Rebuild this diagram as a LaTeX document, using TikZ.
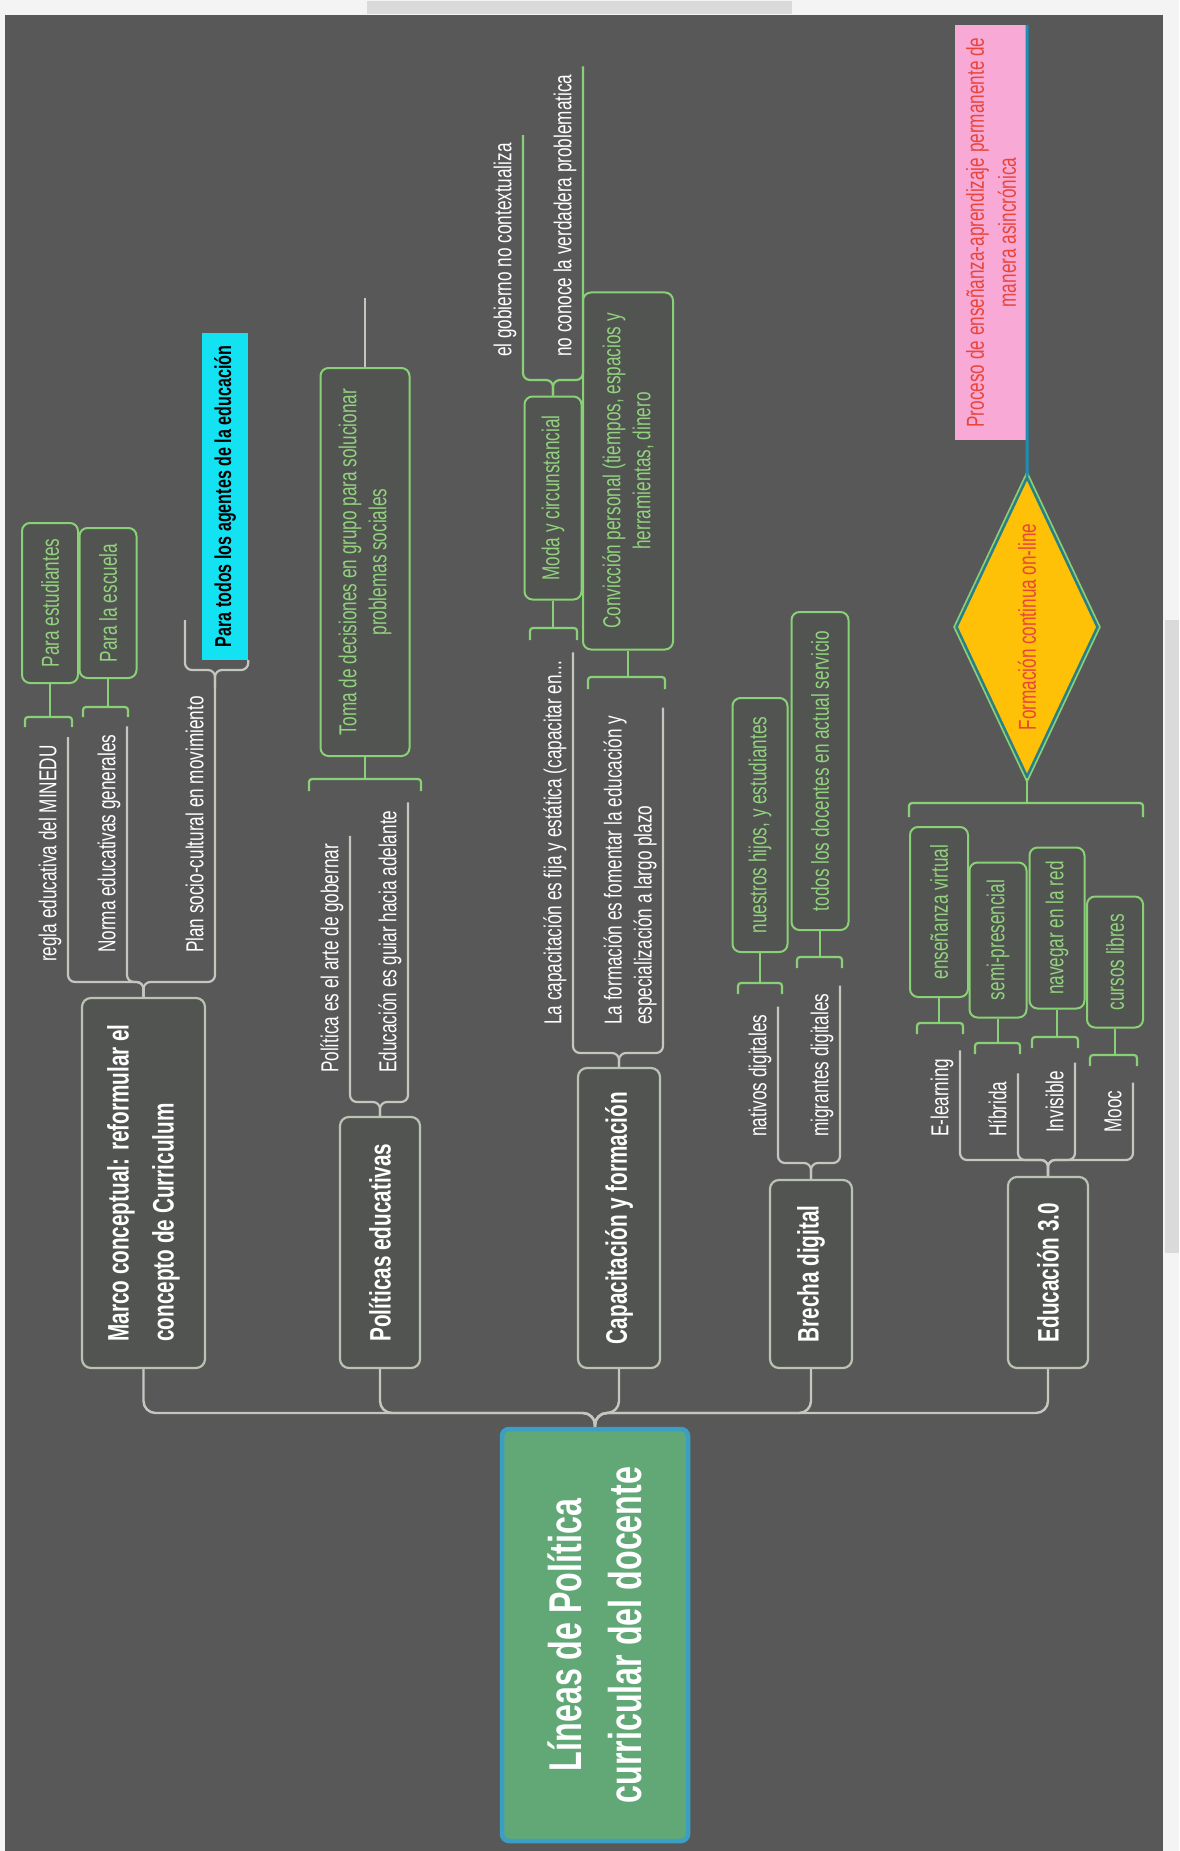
\documentclass[tikz,border=0pt]{standalone}
\usepackage{fontspec}
\setmainfont{Liberation Sans}[FakeStretch=0.7]
\usetikzlibrary{shapes.geometric}
\definecolor{bgdark}{HTML}{585858}
\definecolor{chrome}{HTML}{F4F4F4}
\definecolor{thumb}{HTML}{DADADA}
\definecolor{boxline}{HTML}{BAC3B3}
\definecolor{boxfill}{HTML}{515450}
\definecolor{twiggray}{HTML}{C3C7BF}
\definecolor{leafgreen}{HTML}{8AD076}
\definecolor{leaftext}{HTML}{93D27F}
\definecolor{rootgreen}{HTML}{62A877}
\definecolor{rootblue}{HTML}{3A9EC5}
\definecolor{agentcyan}{HTML}{12E2F2}
\definecolor{notepink}{HTML}{F8A9D6}
\definecolor{notered}{HTML}{E8463A}
\definecolor{diamondfill}{HTML}{FFC107}
\definecolor{diamondline}{HTML}{2A7F86}
\definecolor{tealline}{HTML}{1B8FB5}

\begin{document}
\begin{tikzpicture}[x=1pt,y=-1pt]
  \tikzstyle{rootbox}=[rotate=90, fill=rootgreen, draw=rootblue, line width=4.5pt, rounded corners=7pt, text=white, font=\fontsize{46}{60}\selectfont\bfseries, align=center, minimum width=412pt, minimum height=186pt]
  \tikzstyle{mainbox}=[rotate=90, fill=boxfill, draw=boxline, line width=2.2pt, rounded corners=9pt, text=white, font=\fontsize{29.6}{45}\selectfont\bfseries, align=left, inner sep=0pt]
  \tikzstyle{subtopic}=[rotate=90, anchor=south west, text=white, font=\fontsize{24.5}{30}\selectfont, align=left, inner xsep=8pt, inner ysep=6pt, text height=18pt, text depth=5.5pt]
  \tikzstyle{leaf}=[rotate=90, fill=boxfill, draw=leafgreen, line width=2pt, rounded corners=8pt, text=leaftext, font=\fontsize{24.5}{30}\selectfont, align=center, inner sep=0pt]
  \tikzstyle{trunk}=[draw=twiggray, line width=2.4pt, rounded corners=12pt]
  \tikzstyle{twig}=[draw=twiggray, line width=2.2pt, rounded corners=7pt]
  \tikzstyle{sprig}=[draw=leafgreen, line width=2.2pt, rounded corners=7pt]
  \tikzstyle{brace}=[draw=leafgreen, line width=2.2pt, rounded corners=3pt]

  \useasboundingbox (0,0) rectangle (1179,1851);
  \fill[chrome] (0,0) rectangle (1179,1851);
  \fill[thumb] (367,1) rectangle (792,14);
  \fill[thumb] (1165,620) rectangle (1179,1253);
  \fill[bgdark] (5,15) rectangle (1163,1851);

  % centre and main branches
  \node[rootbox] (root) at (595,1635) {Líneas de Política\\curricular del docente};
  \node[mainbox, minimum width=370pt, minimum height=123pt] (marco) at (143.5,1183) {Marco conceptual: reformular el\\concepto de Curriculum};
  \node[mainbox, minimum width=251pt, minimum height=80pt] (polit) at (380,1242.5) {Políticas educativas};
  \node[mainbox, minimum width=300pt, minimum height=82pt] (capac) at (619,1218) {Capacitación y formación};
  \node[mainbox, minimum width=188pt, minimum height=82pt] (brecha) at (811,1274) {Brecha digital};
  \node[mainbox, minimum width=191pt, minimum height=80pt] (educ) at (1048,1272.5) {Educación 3.0};

  \coordinate (hub) at (595,1413);
  \path[trunk] (root.east) -- (hub) -| (marco.west);
  \path[trunk] (root.east) -- (hub) -| (polit.west);
  \path[trunk] (root.east) -- (hub) -| (capac.west);
  \path[trunk] (root.east) -- (hub) -| (brecha.west);
  \path[trunk] (root.east) -- (hub) -| (educ.west);

  % Marco conceptual
  \node[subtopic] (regla) at (68,970) {regla educativa del MINEDU};
  \node[subtopic] (norma) at (127,961) {Norma educativas generales};
  \node[subtopic] (plan) at (215,961) {Plan socio-cultural en movimiento};
  \node[leaf, minimum width=160pt, minimum height=56pt] (estud) at (50,603) {Para estudiantes};
  \node[leaf, minimum width=150pt, minimum height=57pt] (escuela) at (108,603) {Para la escuela};
  \node[rotate=90, fill=agentcyan, text=black, font=\fontsize{23}{28}\selectfont\bfseries, minimum width=327pt, minimum height=46pt, inner sep=0pt] (agentes) at (225,496.5) {Para todos los agentes de la educación};

  \coordinate (marcoJ) at (143.5,982);
  \path[twig] (marco.east) -- (marcoJ) -| (regla.south east);
  \path[twig] (marco.east) -- (marcoJ) -| (norma.south east);
  \path[twig] (marco.east) -- (marcoJ) -| (plan.south east);
  \coordinate (estudB) at (50,717);
  \path[brace] (estudB) ++(-25,10) |- (estudB) -| ++(22,10);
  \path[brace] (estudB) -- (estud.west);
  \coordinate (escuelaB) at (108,707);
  \path[brace] (escuelaB) ++(-25,10) |- (escuelaB) -| ++(20,10);
  \path[brace] (escuelaB) -- (escuela.west);
  \coordinate (planJ) at (215,670);
  \coordinate (blank1) at (185,620);
  \path[twig] (plan.south east) -- (planJ) -| (blank1);
  \path[twig] (plan.south east) -- (planJ) -| (agentes.south west);

  % Politicas educativas
  \node[subtopic] (arte) at (350,1081) {Política es el arte de gobernar};
  \node[subtopic] (guiar) at (408,1081) {Educación es guiar hacia adelante};
  \node[leaf, minimum width=388pt, minimum height=89pt] (toma) at (365,562) {Toma de decisiones en grupo para solucionar\\problemas sociales};
  \coordinate (politJ) at (380,1102);
  \path[twig] (polit.east) -- (politJ) -| (arte.south east);
  \path[twig] (polit.east) -- (politJ) -| (guiar.south east);
  \coordinate (tomaB) at (365,779);
  \path[brace] (tomaB) ++(-56,12) |- (tomaB) -| ++(56,12);
  \path[brace] (tomaB) -- (toma.west);
  \coordinate (tomaTip) at (365,298);
  \path[twig] (toma.east) -- (tomaTip);

  % Capacitacion y formacion
  \node[subtopic] (fija) at (573,1033) {La capacitación es fija y estática (capacitar en...};
  \node[subtopic, text height={}, text depth={}] (fomen) at (663,1033) {La formación es fomentar la educación y\\especialización a largo plazo};
  \node[leaf, minimum width=203pt, minimum height=57pt] (moda) at (553,498) {Moda y circunstancial};
  \node[leaf, minimum width=357pt, minimum height=90pt] (conv) at (628,471) {Convicción personal (tiempos, espacios y\\herramientas, dinero};
  \node[subtopic] (gobierno) at (523,365) {el gobierno no contextualiza};
  \node[subtopic] (conoce) at (583,365) {no conoce la verdadera problematica};
  \coordinate (capacJ) at (619,1053);
  \path[twig] (capac.east) -- (capacJ) -| (fija.south east);
  \path[twig] (capac.east) -- (capacJ) -| (fomen.south east);
  \coordinate (modaB) at (553,628);
  \path[brace] (modaB) ++(-23,12) |- (modaB) -| ++(24,12);
  \path[brace] (modaB) -- (moda.west);
  \coordinate (convB) at (628,677);
  \path[brace] (convB) ++(-40,12) |- (convB) -| ++(37,12);
  \path[brace] (convB) -- (conv.west);
  \coordinate (modaJ) at (553,380);
  \path[sprig] (moda.east) -- (modaJ) -| (gobierno.south east);
  \path[sprig] (moda.east) -- (modaJ) -| (conoce.south east);

  % Brecha digital
  \node[subtopic] (nativos) at (778,1145) {nativos digitales};
  \node[subtopic] (migran) at (840,1145) {migrantes digitales};
  \node[leaf, minimum width=254pt, minimum height=55pt] (hijos) at (760,825) {nuestros hijos, y estudiantes};
  \node[leaf, minimum width=318pt, minimum height=57pt] (docentes) at (820,771) {todos los docentes en actual servicio};
  \coordinate (brechaJ) at (811,1163);
  \path[twig] (brecha.east) -- (brechaJ) -| (nativos.south east);
  \path[twig] (brecha.east) -- (brechaJ) -| (migran.south east);
  \coordinate (hijosB) at (760,983);
  \path[brace] (hijosB) ++(-22,11) |- (hijosB) -| ++(22,11);
  \path[brace] (hijosB) -- (hijos.west);
  \coordinate (docentesB) at (820,957);
  \path[brace] (docentesB) ++(-23,11) |- (docentesB) -| ++(22,11);
  \path[brace] (docentesB) -- (docentes.west);

  % Educacion 3.0
  \node[subtopic] (elearn) at (960,1145) {E-learning};
  \node[subtopic] (hibrida) at (1018,1145) {Híbrida};
  \node[subtopic] (invis) at (1075,1141) {Invisible};
  \node[subtopic] (mooc) at (1133,1141) {Mooc};
  \node[leaf, minimum width=170pt, minimum height=58pt] (ensen) at (939,912) {enseñanza virtual};
  \node[leaf, minimum width=155pt, minimum height=57pt] (semi) at (998,940) {semi-presencial};
  \node[leaf, minimum width=161pt, minimum height=55pt] (naveg) at (1057,928) {navegar en la red};
  \node[leaf, minimum width=131pt, minimum height=56pt] (cursos) at (1115,962) {cursos libres};
  \coordinate (educJ) at (1048,1160);
  \path[twig] (educ.east) -- (educJ) -| (elearn.south east);
  \path[twig] (educ.east) -- (educJ) -| (hibrida.south east);
  \path[twig] (educ.east) -- (educJ) -| (invis.south east);
  \path[twig] (educ.east) -- (educJ) -| (mooc.south east);
  \coordinate (ensenB) at (939,1023);
  \path[brace] (ensenB) ++(-22,11) |- (ensenB) -| ++(24,11);
  \path[brace] (ensenB) -- (ensen.west);
  \coordinate (semiB) at (998,1043);
  \path[brace] (semiB) ++(-23,11) |- (semiB) -| ++(22,11);
  \path[brace] (semiB) -- (semi.west);
  \coordinate (navegB) at (1057,1037);
  \path[brace] (navegB) ++(-25,11) |- (navegB) -| ++(21,11);
  \path[brace] (navegB) -- (naveg.west);
  \coordinate (cursosB) at (1115,1055);
  \path[brace] (cursosB) ++(-25,11) |- (cursosB) -| ++(22,11);
  \path[brace] (cursosB) -- (cursos.west);

  \node[diamond, aspect=2.1, rotate=90, minimum width=300pt, minimum height=142pt, inner sep=0pt, fill=diamondfill, draw=diamondline, line width=2.5pt, preaction={draw=leafgreen, line width=6pt}, text=notered, font=\fontsize{24.5}{30}\selectfont] (formac) at (1027,627) {Formación continua on-line};
  \node[rotate=90, fill=notepink, text=notered, font=\fontsize{24.5}{32}\selectfont, align=center, minimum width=415pt, minimum height=72pt, inner sep=0pt] (proceso) at (991,232.5) {Proceso de enseñanza-aprendizaje permanente de\\manera asincrónica};
  \coordinate (formB) at (1027,803);
  \path[brace] (formB) ++(-118,14) |- (formB) -| ++(116,14);
  \path[brace] (formB) -- (formac.west);
  \path[draw=tealline, line width=3pt] (formac.east) -- (proceso.south east);
\end{tikzpicture}
\end{document}
